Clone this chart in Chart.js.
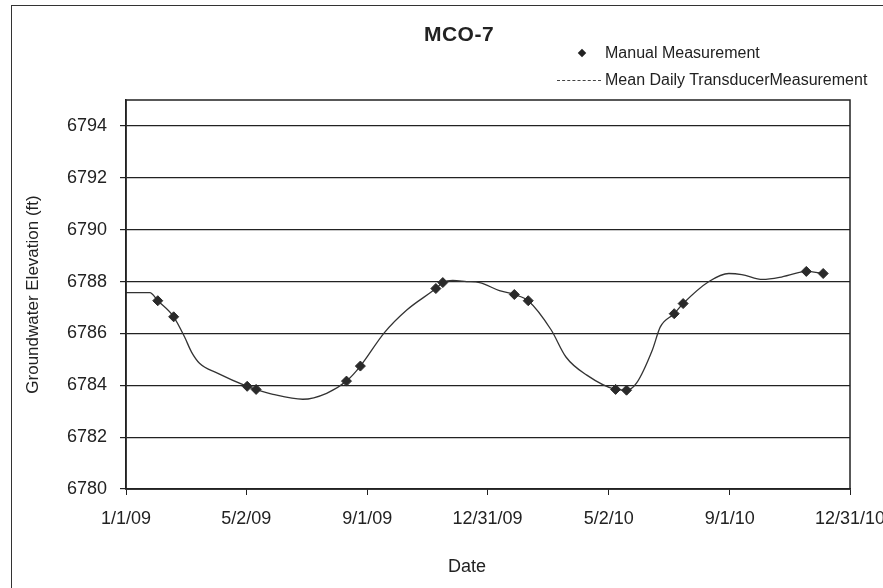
<!DOCTYPE html>
<html>
<head>
<meta charset="utf-8">
<script src="https://cdn.jsdelivr.net/npm/chart.js@4.4.1/dist/chart.umd.min.js"></script>
<style>
  body { margin: 0; background: #fff; width: 883px; height: 588px; overflow: hidden; position: relative;
         font-family: Arial, "Liberation Sans", sans-serif; color: #222; }
  #chart { position: absolute; left: 0; top: 0; }
  #frame { position: absolute; left: 11px; top: 5px; width: 900px; height: 600px; border: 1.5px solid #333; }
  .title { position: absolute; left: 459px; top: 22px; transform: translateX(-50%); font-weight: bold; font-size: 21px; letter-spacing: 0.5px; }
  .leg { position: absolute; font-size: 16px; line-height: 18px; white-space: nowrap; }
  .diamond { position: absolute; left: 579px; top: 50px; width: 6px; height: 6px; background: #222; transform: rotate(45deg); }
  .legline { position: absolute; left: 557px; top: 80px; width: 44px; border-top: 1px dashed #444; }
  .xtitle { position: absolute; left: 467px; top: 556px; transform: translateX(-50%); font-size: 18px; }
</style>
</head>
<body>
<canvas id="chart" width="900" height="588"></canvas>
<div id="frame"></div>
<div class="title">MCO-7</div>
<div class="diamond"></div>
<div class="leg" style="left:605px; top:44px;">Manual Measurement</div>
<div class="legline"></div>
<div class="leg" style="left:605px; top:71px;">Mean Daily TransducerMeasurement</div>
<div class="xtitle">Date</div>
<script>
// days counted from 1/1/09
const lineDays = [0, 24, 32, 48, 59, 66, 74, 92, 122, 131, 148, 178, 202, 222, 236, 260, 283, 312, 319, 329, 343, 356, 376, 391, 405, 428, 443, 464, 493, 504, 514, 530, 538, 552, 561, 587, 607, 620, 641, 658, 678, 685, 702];
const lineLevels = [6787.57, 6787.57, 6787.26, 6786.64, 6785.86, 6785.28, 6784.85, 6784.47, 6783.96, 6783.84, 6783.65, 6783.46, 6783.69, 6784.16, 6784.74, 6786.02, 6786.91, 6787.73, 6787.96, 6788.04, 6788.0, 6787.96, 6787.65, 6787.5, 6787.26, 6786.14, 6785.09, 6784.39, 6783.84, 6783.81, 6784.08, 6785.36, 6786.25, 6786.76, 6787.15, 6788.0, 6788.31, 6788.27, 6788.08, 6788.16, 6788.35, 6788.39, 6788.31];

const manualDays = [32, 48, 122, 131, 222, 236, 312, 319, 391, 405, 493, 504, 552, 561, 685, 702];
const manualLevels = [6787.26, 6786.64, 6783.96, 6783.84, 6784.16, 6784.74, 6787.73, 6787.96, 6787.5, 6787.26, 6783.84, 6783.81, 6786.76, 6787.15, 6788.39, 6788.31];

const yTicks = [6780, 6782, 6784, 6786, 6788, 6790, 6792, 6794];
const xTickDays = [0, 121, 243, 364, 486, 608, 729];
const xTickLabels = ['1/1/09', '5/2/09', '9/1/09', '12/31/09', '5/2/10', '9/1/10', '12/31/10'];

const ink = '#222';

// box around the plot area (top and right sides)
const plotBox = {
    id: 'plotBox',
    afterDraw(chart) {
        const a = chart.chartArea;
        const c = chart.ctx;
        c.save();
        c.strokeStyle = ink;
        c.lineWidth = 1.5;
        c.strokeRect(a.left, a.top, a.right - a.left, a.bottom - a.top);
        c.restore();
    }
};

new Chart(document.getElementById('chart').getContext('2d'), {
    type: 'scatter',
    data: {
        datasets: [{
            label: 'Manual Measurement',
            data: manualDays.map((d, i) => ({ x: d, y: manualLevels[i] })),
            pointStyle: 'rectRot',
            pointRadius: 5,
            backgroundColor: '#2a2a2a',
            borderColor: '#2a2a2a',
            showLine: false
        }, {
            label: 'Mean Daily Transducer Measurement',
            data: lineDays.map((d, i) => ({ x: d, y: lineLevels[i] })),
            showLine: true,
            pointRadius: 0,
            borderColor: '#333',
            borderWidth: 1.3,
            cubicInterpolationMode: 'monotone'
        }]
    },
    options: {
        responsive: false,
        animation: false,
        devicePixelRatio: 1,
        layout: { padding: { left: 14, top: 100, right: 50, bottom: 0 } },
        plugins: {
            legend: { display: false },
            tooltip: { enabled: false }
        },
        scales: {
            x: {
                type: 'linear',
                min: 0,
                max: 729,
                afterBuildTicks: s => { s.ticks = xTickDays.map(v => ({ value: v })); },
                afterFit: s => { s.height = 99; },
                ticks: {
                    autoSkip: false,
                    maxRotation: 0,
                    padding: 13,
                    color: ink,
                    font: { family: 'Arial', size: 18 },
                    callback: v => xTickLabels[xTickDays.indexOf(v)]
                },
                grid: { drawOnChartArea: false, drawTicks: true, tickLength: 6, color: ink },
                border: { color: ink, width: 1.5 }
            },
            y: {
                min: 6780,
                max: 6795,
                afterBuildTicks: s => { s.ticks = yTicks.map(v => ({ value: v })); },
                afterFit: s => { s.width = 112; },
                ticks: {
                    padding: 13,
                    color: ink,
                    font: { family: 'Arial', size: 18 },
                    callback: v => String(v)
                },
                grid: { color: ink, lineWidth: 1.2, tickLength: 6 },
                border: { color: ink, width: 1.5 },
                title: {
                    display: true,
                    text: 'Groundwater Elevation (ft)',
                    color: ink,
                    font: { family: 'Arial', size: 17 },
                    padding: { top: 9, bottom: 0 }
                }
            }
        }
    },
    plugins: [plotBox]
});
</script>
</body>
</html>
